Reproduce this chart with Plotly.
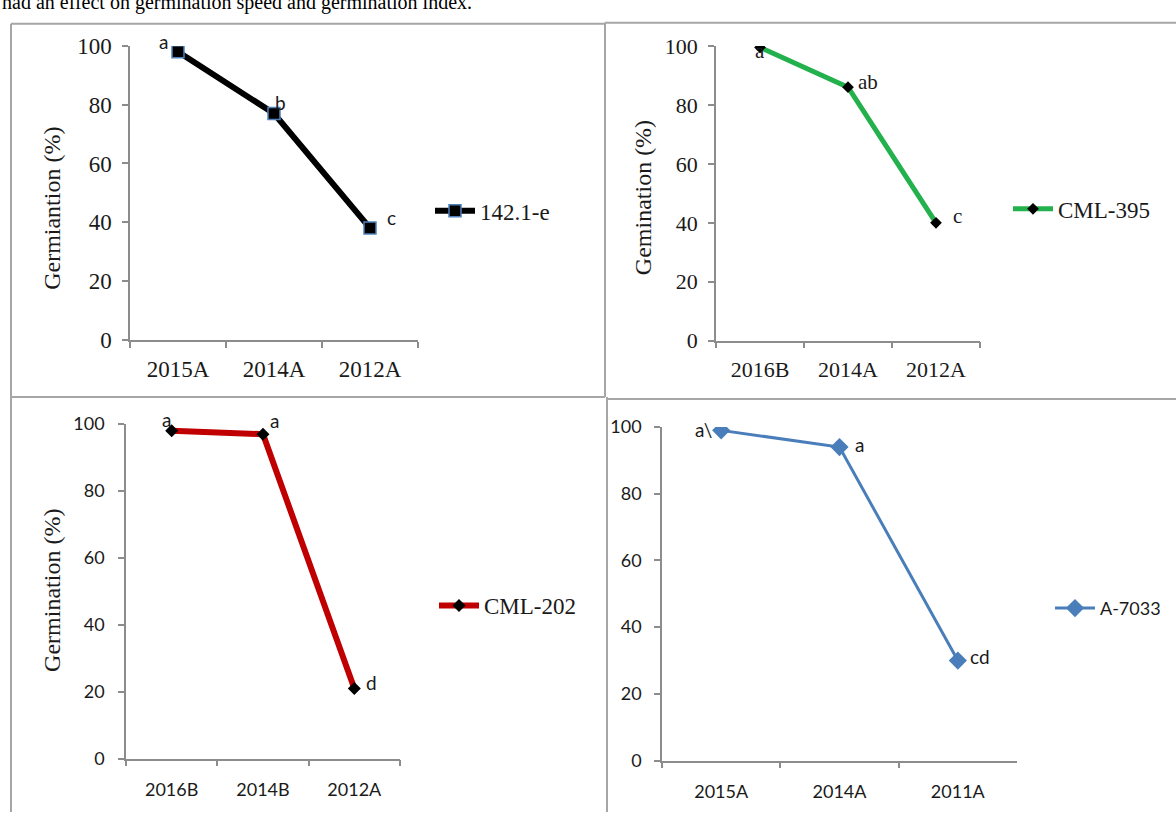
import plotly.graph_objects as go

W, H = 1176, 825

# ---- data -------------------------------------------------------------
cats_142 = ["2015A", "2014A", "2012A"]
germ_142 = [98, 77, 38]
sig_142 = ["a", "b", "c"]

cats_395 = ["2016B", "2014A", "2012A"]
germ_395 = [99.5, 86, 40]
sig_395 = ["a", "ab", "c"]

cats_202 = ["2016B", "2014B", "2012A"]
germ_202 = [98, 97, 21]
sig_202 = ["a", "a", "d"]

cats_7033 = ["2015A", "2014A", "2011A"]
germ_7033 = [99, 94, 30]
sig_7033 = ["a\\", "a", "cd"]

y_ticks = [0, 20, 40, 60, 80, 100]

SERIF = "Liberation Serif, Times New Roman, serif"
SANS = "Lato, Open Sans, sans-serif"
INK = "#1a1a1a"
AXIS_GREY = "#8c8c8c"
FRAME_GREY = "#a6a6a6"


def px_x(p):
    return p / W


def px_y(p):
    return 1 - p / H


fig = go.Figure()

panels = [
    dict(name="142.1-e", cats=cats_142, vals=germ_142, sig=sig_142,
         line=dict(color="#000000", width=6),
         marker=dict(symbol="square", size=12, color="#000000",
                     line=dict(color="#4F81BD", width=1.5)),
         xdom=(130, 418), ydom=(338, 35), tickfont=SERIF, ticksize=23,
         sigfont=SANS, sigsize=19,
         shifts=[(-15, 10), (6, 11), (21, 11)],
         title="Germiantion (%)", title_pos=(52, 203),
         legend_pos=(430, 205), legend_font=SERIF, legend_size=23,
         ystandoff=6, xstandoff=8),
    dict(name="CML-395", cats=cats_395, vals=germ_395, sig=sig_395,
         line=dict(color="#22B14C", width=5),
         marker=dict(symbol="diamond", size=9, color="#000000"),
         xdom=(716, 980), ydom=(339, 35), tickfont=SERIF, ticksize=22,
         sigfont=SERIF, sigsize=21,
         shifts=[(0, -4), (20, 5), (21, 7)],
         title="Gemination (%)", title_pos=(643, 192),
         legend_pos=(1008, 203), legend_font=SERIF, legend_size=23,
         ystandoff=6, xstandoff=8),
    dict(name="CML-202", cats=cats_202, vals=germ_202, sig=sig_202,
         line=dict(color="#C00000", width=6),
         marker=dict(symbol="diamond", size=10, color="#000000"),
         xdom=(126, 400), ydom=(770, 425), tickfont=SANS, ticksize=18,
         sigfont=SANS, sigsize=19,
         shifts=[(-5, 11), (11, 14), (17, 6)],
         title="Germination (%)", title_pos=(52, 597),
         legend_pos=(434, 612), legend_font=SERIF, legend_size=23,
         ystandoff=10, xstandoff=14),
    dict(name="A-7033", cats=cats_7033, vals=germ_7033, sig=sig_7033,
         line=dict(color="#4A7EBB", width=3),
         marker=dict(symbol="diamond", size=14, color="#4A7EBB"),
         xdom=(662, 1017), ydom=(772, 428), tickfont=SANS, ticksize=18,
         sigfont=SANS, sigsize=19,
         shifts=[(-18, 1), (20, 3), (22, 4)],
         title=None, title_pos=None,
         legend_pos=(1050, 615), legend_font=SANS, legend_size=18,
         ystandoff=9, xstandoff=14),
]

layout_axes = {}
annotations = []

for i, p in enumerate(panels, start=1):
    sfx = "" if i == 1 else str(i)
    xa, ya = f"x{sfx}", f"y{sfx}"
    leg = "legend" if i == 1 else f"legend{i}"

    fig.add_trace(go.Scatter(
        x=p["cats"], y=p["vals"], name=p["name"], mode="lines+markers",
        line=p["line"], marker=p["marker"], xaxis=xa, yaxis=ya,
        legend=leg, hoverinfo="skip",
    ))

    layout_axes[f"xaxis{sfx}"] = dict(
        domain=[px_x(p["xdom"][0]), px_x(p["xdom"][1])],
        anchor=ya, type="category", range=[-0.5, 2.5],
        showline=True, linecolor=AXIS_GREY, linewidth=1.5,
        ticks="outside", tickson="boundaries", ticklen=6,
        tickcolor=AXIS_GREY, tickwidth=1.5,
        showgrid=False, zeroline=False,
        ticklabelstandoff=p["xstandoff"],
        tickfont=dict(family=p["tickfont"], size=p["ticksize"], color=INK),
    )
    layout_axes[f"yaxis{sfx}"] = dict(
        domain=[px_y(p["ydom"][0]), px_y(p["ydom"][1])],
        anchor=xa, range=[0, 100], tickvals=y_ticks,
        showline=True, linecolor=AXIS_GREY, linewidth=1.5,
        ticks="outside", ticklen=6, tickcolor=AXIS_GREY, tickwidth=1.5,
        showgrid=False, zeroline=False,
        ticklabelstandoff=p["ystandoff"],
        tickfont=dict(family=p["tickfont"], size=p["ticksize"], color=INK),
    )
    layout_axes[leg] = dict(
        x=px_x(p["legend_pos"][0]), y=px_y(p["legend_pos"][1]),
        xanchor="left", yanchor="middle",
        bgcolor="rgba(0,0,0,0)", borderwidth=0,
        font=dict(family=p["legend_font"], size=p["legend_size"], color=INK),
        itemwidth=40,
    )

    for c, v, s, (dx, dy) in zip(p["cats"], p["vals"], p["sig"], p["shifts"]):
        annotations.append(dict(
            x=c, y=v, xref=xa, yref=ya, text=s, showarrow=False,
            xshift=dx, yshift=dy,
            font=dict(family=p["sigfont"], size=p["sigsize"], color=INK),
        ))

    if p["title"]:
        annotations.append(dict(
            x=px_x(p["title_pos"][0]), y=px_y(p["title_pos"][1]),
            xref="paper", yref="paper", text=p["title"], showarrow=False,
            textangle=-90, xanchor="center", yanchor="middle",
            font=dict(family=SERIF, size=24, color=INK),
        ))

# sentence from the surrounding page, partly hidden by the top edge
annotations.append(dict(
    x=0, y=px_y(4), xref="paper", yref="paper", xanchor="left",
    yanchor="bottom", showarrow=False,
    text="had an effect on germination speed and germination index.",
    font=dict(family=SERIF, size=20, color="#000000"),
))

# panel frames
frame_lines = [
    (11, 12, 605, 12), (605, 11, 1176, 11),
    (11, 12, 11, 825), (605, 11, 605, 397),
    (11, 397, 605, 397), (607, 399, 1176, 399),
    (607, 397, 607, 825),
]
shapes = [
    dict(type="line", xref="paper", yref="paper",
         x0=px_x(a), y0=px_y(b), x1=px_x(c), y1=px_y(d),
         line=dict(color=FRAME_GREY, width=2))
    for a, b, c, d in frame_lines
]

fig.update_layout(
    width=W, height=H,
    margin=dict(l=0, r=0, t=0, b=0),
    paper_bgcolor="white", plot_bgcolor="white",
    showlegend=True,
    annotations=annotations, shapes=shapes,
    **layout_axes,
)

fig.write_html("out.html")
